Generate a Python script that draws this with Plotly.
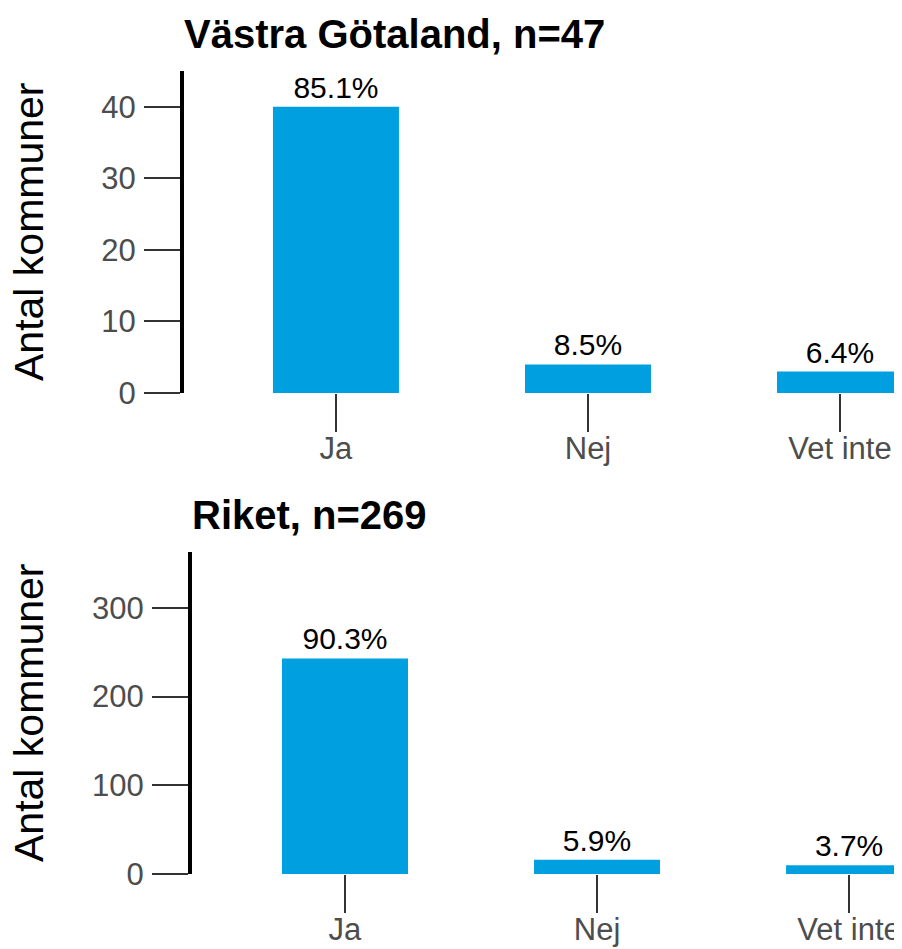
import plotly.graph_objects as go

categories = ["Ja", "Nej", "Vet inte"]
vg_counts = [40, 4, 3]
vg_pct = ["85.1%", "8.5%", "6.4%"]
riket_counts = [243, 16, 10]
riket_pct = ["90.3%", "5.9%", "3.7%"]
titles = ["Västra Götaland, n=47", "Riket, n=269"]
y_title = "Antal kommuner"

OFF = 8  # page body margin
W, H = 902 - OFF, 949 - OFF
FONT = "Liberation Sans, Arial, sans-serif"
BAR = "#00A0E0"
TICKC = "#333333"
LABC = "#4D4D4D"

def px_x(p):
    return (p - OFF) / W

def px_y(p):
    return 1 - (p - OFF) / H

fig = go.Figure()
fig.add_trace(go.Bar(x=categories, y=vg_counts, text=vg_pct, textposition="outside",
                     marker=dict(color=BAR, line=dict(width=0)), width=0.5,
                     textfont=dict(size=30, color="black", family=FONT),
                     cliponaxis=False, xaxis="x", yaxis="y", hoverinfo="skip"))
fig.add_trace(go.Bar(x=categories, y=riket_counts, text=riket_pct, textposition="outside",
                     marker=dict(color=BAR, line=dict(width=0)), width=0.5,
                     textfont=dict(size=30, color="black", family=FONT),
                     cliponaxis=False, xaxis="x2", yaxis="y2", hoverinfo="skip"))

xcommon = dict(showgrid=False, zeroline=False, showline=False, ticks="outside", ticklen=38,
               tickwidth=2, tickcolor=TICKC, tickfont=dict(size=31, color=LABC, family=FONT),
               ticklabelstandoff=-10, automargin=False, fixedrange=True)
ycommon = dict(showgrid=False, zeroline=False, showline=True, linecolor="black", linewidth=4,
               ticks="outside", ticklen=36, tickwidth=2, tickcolor=TICKC,
               tickfont=dict(size=31, color=LABC, family=FONT), ticklabelstandoff=2,
               automargin=False, fixedrange=True)

fig.update_layout(
    width=W, height=H, autosize=False,
    margin=dict(l=0, r=0, t=0, b=0, pad=0),
    paper_bgcolor="white", plot_bgcolor="white",
    showlegend=False,
    font=dict(family=FONT),
    xaxis=dict(domain=[px_x(184), 1], range=[-0.603, 2.246], anchor="y", **xcommon),
    yaxis=dict(domain=[px_y(393), px_y(71)], range=[0, 45], tickvals=[0, 10, 20, 30, 40],
               anchor="x", **ycommon),
    xaxis2=dict(domain=[px_x(192), 1], range=[-0.607, 2.21], anchor="y2", **xcommon),
    yaxis2=dict(domain=[px_y(874), px_y(552)], range=[0, 363], tickvals=[0, 100, 200, 300],
                anchor="x2", **ycommon),
)

annotations = [
    dict(text="<b>" + titles[0] + "</b>", xref="paper", yref="paper", x=px_x(182), y=px_y(34),
         xanchor="left", yanchor="middle", showarrow=False,
         font=dict(size=40, color="black", family=FONT)),
    dict(text="<b>" + titles[1] + "</b>", xref="paper", yref="paper", x=px_x(190), y=px_y(515),
         xanchor="left", yanchor="middle", showarrow=False,
         font=dict(size=40, color="black", family=FONT)),
    dict(text=y_title, xref="paper", yref="paper", x=px_x(29), y=px_y(232), textangle=-90,
         xanchor="center", yanchor="middle", showarrow=False,
         font=dict(size=41, color="black", family=FONT)),
    dict(text=y_title, xref="paper", yref="paper", x=px_x(29), y=px_y(713), textangle=-90,
         xanchor="center", yanchor="middle", showarrow=False,
         font=dict(size=41, color="black", family=FONT)),
]
fig.update_layout(annotations=annotations)

fig.write_html("out.html")
